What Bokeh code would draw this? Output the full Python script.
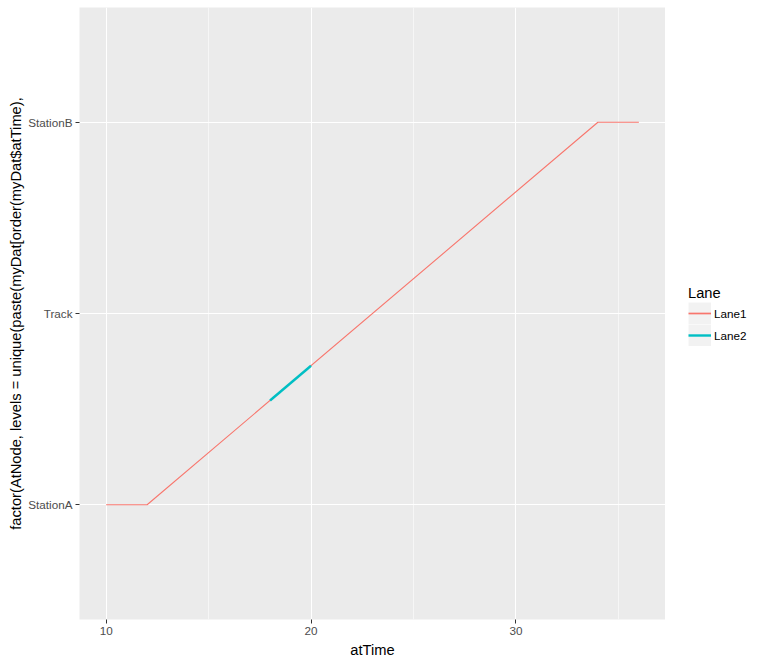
from bokeh.plotting import figure
from bokeh.models import FixedTicker, Legend, LegendItem, Range1d
from bokeh.layouts import row
from bokeh.embed import file_html
from bokeh.resources import INLINE

# data
nodes = ["StationA", "Track", "StationB"]
lane1_time = [10, 12, 34, 36]
lane1_node = [1, 1, 3, 3]          # index into nodes (1-based)
lane2_time = [18, 20]
lane2_node = [1.545, 1.727]
x_ticks = [10, 20, 30]
x_minor = [15, 25, 35]
lanes = ["Lane1", "Lane2"]
lane_colors = ["#F8766D", "#00BFC4"]
lane_widths = [1.1, 2.4]
lane_times = [lane1_time, lane2_time]
lane_nodes = [lane1_node, lane2_node]

FONT = "Liberation Sans"

p = figure(frame_width=586, frame_height=612, output_backend="svg", toolbar_location=None,
           x_range=Range1d(8.7, 37.3), y_range=Range1d(0.4, 3.6),
           min_border_left=79, min_border_right=0, min_border_top=7,
           min_border_bottom=43)
p.background_fill_color = "#EBEBEB"
p.border_fill_color = "white"
p.outline_line_color = None

p.xaxis.ticker = FixedTicker(ticks=x_ticks, minor_ticks=x_minor)
p.yaxis.ticker = FixedTicker(ticks=[1, 2, 3])
p.yaxis.major_label_overrides = {i + 1: n for i, n in enumerate(nodes)}

for ax in (p.xaxis, p.yaxis):
    ax.axis_line_color = None
    ax.major_tick_line_color = "#333333"
    ax.major_tick_line_width = 1
    ax.major_tick_out = 4
    ax.major_tick_in = 0
    ax.minor_tick_line_color = None
    ax.major_label_text_font = FONT
    ax.major_label_text_font_size = "11.7px"
    ax.major_label_text_color = "#4D4D4D"
    ax.axis_label_text_font = FONT
    ax.axis_label_text_font_size = "14.7px"
    ax.axis_label_text_font_style = "normal"
    ax.axis_label_text_color = "black"

p.xaxis.axis_label = "atTime"
p.xaxis.major_label_standoff = 3
p.xaxis.axis_label_standoff = 4
p.yaxis.axis_label = "factor(AtNode, levels = unique(paste(myDat[order(myDat$atTime),"
p.yaxis.major_label_standoff = 3
p.yaxis.axis_label_standoff = 1

p.xgrid.grid_line_color = "white"
p.xgrid.grid_line_width = 1.1
p.xgrid.minor_grid_line_color = "white"
p.xgrid.minor_grid_line_width = 0.55
p.ygrid.grid_line_color = "white"
p.ygrid.grid_line_width = 1.1

for t, n, col, w in zip(lane_times, lane_nodes, lane_colors, lane_widths):
    p.line(t, n, line_color=col, line_width=w)

# legend panel to the right (its own data lie outside its view; only keys show)
lg = figure(width=97, height=662, output_backend="svg", toolbar_location=None,
            x_axis_type=None, y_axis_type=None, x_range=Range1d(0, 1), y_range=Range1d(0, 1),
            min_border=0)
lg.grid.visible = False
lg.outline_line_color = None
lg.background_fill_color = "white"
lg.border_fill_color = "white"

items = []
for name, t, n, col, w in zip(lanes, lane_times, lane_nodes, lane_colors, lane_widths):
    bg = lg.line(t, n, line_color="#F2F2F2", line_width=22)
    fg = lg.line(t, n, line_color=col, line_width=max(w, 1.7))
    items.append(LegendItem(label=name, renderers=[bg, fg]))

legend = Legend(items=items, location=(23, 273), title="Lane")
legend.background_fill_alpha = 0
legend.border_line_color = None
legend.padding = 0
legend.margin = 0
legend.spacing = 0
legend.glyph_width = 23
legend.glyph_height = 22
legend.label_height = 22
legend.label_standoff = 3
legend.label_text_font = FONT
legend.label_text_font_size = "11.7px"
legend.label_text_color = "black"
legend.title_text_font = FONT
legend.title_text_font_size = "14.7px"
legend.title_text_font_style = "normal"
legend.title_text_color = "black"
legend.title_standoff = 1
lg.add_layout(legend, "center")

layout = row(p, lg)
open("out.html", "w").write(file_html(layout, INLINE))
